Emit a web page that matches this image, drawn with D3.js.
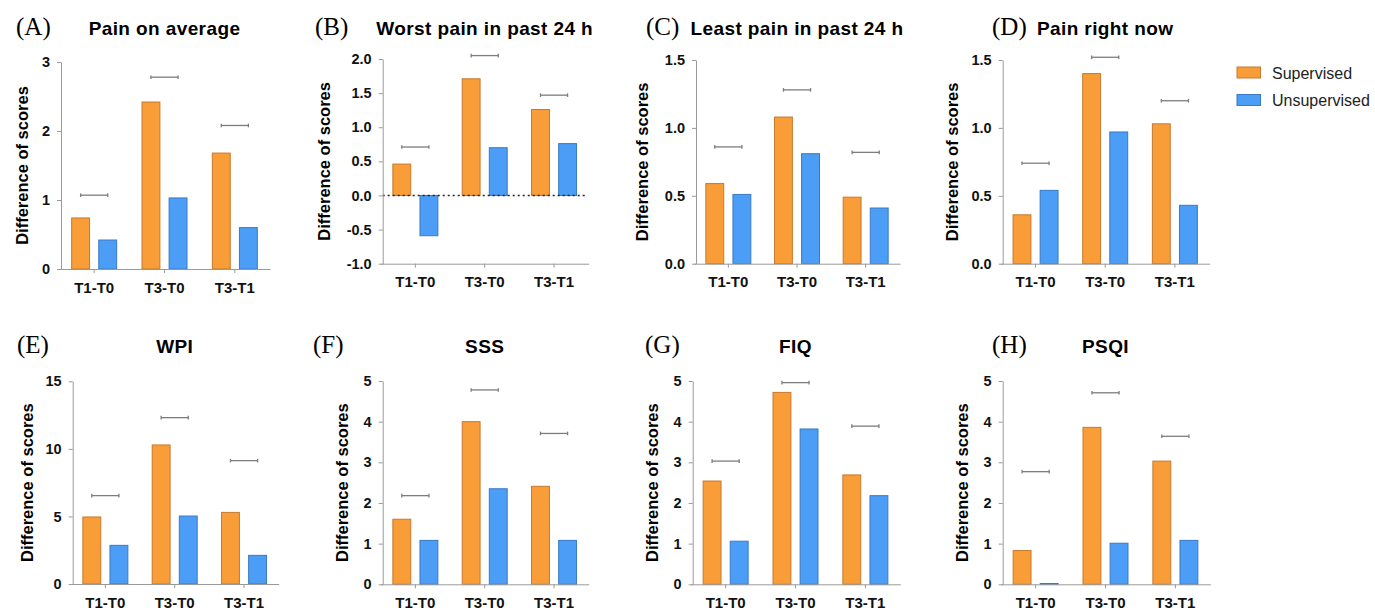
<!DOCTYPE html>
<html>
<head>
<meta charset="utf-8">
<script src="https://cdn.jsdelivr.net/npm/d3@7"></script>
<style>
  body { margin: 0; background: #fff; }
  svg { font-family: "Liberation Sans", Arial, sans-serif; }
  .axis path, .axis line { stroke: #9a9a9a; stroke-width: 1; }
  .axis text { font-size: 14.5px; font-weight: bold; fill: #111; }
  .axis--x text { font-size: 15px; }
</style>
</head>
<body>
<script>
// data
var categories = ["T1-T0", "T3-T0", "T3-T1"],
    groups = ["Supervised", "Unsupervised"],
    letters = ["(A)", "(B)", "(C)", "(D)", "(E)", "(F)", "(G)", "(H)"],
    titles = ["Pain on average", "Worst pain in past 24 h", "Least pain in past 24 h", "Pain right now",
              "WPI", "SSS", "FIQ", "PSQI"],
    supervised = [
      [0.74, 2.42, 1.68],
      [0.46, 1.71, 1.26],
      [0.59, 1.08, 0.49],
      [0.36, 1.40, 1.03],
      [4.96, 10.29, 5.30],
      [1.60, 4.00, 2.41],
      [2.54, 4.72, 2.69],
      [0.83, 3.86, 3.03]
    ],
    unsupervised = [
      [0.42, 1.03, 0.60],
      [-0.59, 0.70, 0.76],
      [0.51, 0.81, 0.41],
      [0.54, 0.97, 0.43],
      [2.86, 5.03, 2.12],
      [1.08, 2.35, 1.08],
      [1.06, 3.82, 2.18],
      [0.02, 1.01, 1.08]
    ],
    bracketLevels = [
      [1.07, 2.78, 2.08],
      [0.71, 2.05, 1.47],
      [0.86, 1.28, 0.82],
      [0.74, 1.52, 1.20],
      [6.54, 12.31, 9.13],
      [2.18, 4.78, 3.71],
      [3.03, 4.96, 3.89],
      [2.77, 4.71, 3.64]
    ],
    yDomains = [[0, 3], [-1, 2], [0, 1.5], [0, 1.5], [0, 15], [0, 5], [0, 5], [0, 5]],
    yTickSteps = [1, 0.5, 0.5, 0.5, 5, 1, 1, 1],
    yTickFormats = ["d", ".1f", ".1f", ".1f", "d", "d", "d", "d"];

// panel placement (pixels)
var layout = [
  {x: 61,    top: 62,  bottom: 269,   w: 207, lx: 16,  ty: 35,  yt: -33},
  {x: 382.7, top: 59,  bottom: 263.7, w: 204, lx: 315, ty: 35,  yt: -53},
  {x: 696,   top: 60,  bottom: 263.7, w: 202, lx: 646, ty: 35,  yt: -48},
  {x: 1002.7,top: 60,  bottom: 263.7, w: 205, lx: 992, ty: 35,  yt: -45},
  {x: 72.7,  top: 381.3,bottom: 584,  w: 204, lx: 17,  ty: 353, yt: -40},
  {x: 382.7, top: 381, bottom: 584.3, w: 204, lx: 313, ty: 353, yt: -35},
  {x: 692.7, top: 381, bottom: 584.3, w: 205.6, lx: 645, ty: 353, yt: -35},
  {x: 1002.7,top: 381, bottom: 584.3, w: 205.6, lx: 992, ty: 353, yt: -35}
];

var color = d3.scaleOrdinal().domain(groups).range(["#F99D38", "#4C9DF6"]),
    stroke = d3.scaleOrdinal().domain(groups).range(["#C7792E", "#3A79C6"]);

var svg = d3.select("body").append("svg")
    .attr("width", 1375)
    .attr("height", 610);

titles.forEach(function(title, i) {
  var L = layout[i],
      h = L.bottom - L.top,
      dom = yDomains[i],
      step = yTickSteps[i],
      fmt = d3.format(yTickFormats[i]);

  var y = d3.scaleLinear().domain(dom).range([h, 0]),
      x0 = d3.scaleBand().domain(categories).range([-2, L.w + 2]),
      x1 = d3.scaleBand().domain(groups)
        .range([x0.bandwidth() / 2 - 22.5, x0.bandwidth() / 2 + 22.5])
        .paddingInner(0.34);

  var ticks = d3.range(dom[0], dom[1] + step / 2, step);

  // letter + title
  svg.append("text")
      .attr("x", L.lx).attr("y", L.ty)
      .style("font-family", "'Liberation Serif', 'Times New Roman', serif")
      .style("font-size", "25px")
      .text(letters[i]);

  svg.append("text")
      .attr("x", L.x + L.w / 2).attr("y", L.ty)
      .attr("text-anchor", "middle")
      .style("font-size", "19px")
      .style("font-weight", "bold")
      .style("letter-spacing", "0.4px")
      .text(title);

  var g = svg.append("g")
      .attr("transform", "translate(" + L.x + "," + L.top + ")");

  var rows = categories.map(function(c, j) {
    return {cat: c, values: [
      {key: groups[0], value: supervised[i][j]},
      {key: groups[1], value: unsupervised[i][j]}
    ], bracket: bracketLevels[i][j]};
  });

  var cat = g.selectAll(".cat")
      .data(rows)
    .enter().append("g")
      .attr("class", "cat")
      .attr("transform", function(d) { return "translate(" + x0(d.cat) + ",0)"; });

  cat.selectAll("rect")
      .data(function(d) { return d.values; })
    .enter().append("rect")
      .attr("x", function(d) { return x1(d.key); })
      .attr("y", function(d) { return y(Math.max(0, d.value)); })
      .attr("width", x1.bandwidth())
      .attr("height", function(d) { return Math.abs(y(d.value) - y(0)); })
      .style("fill", function(d) { return color(d.key); })
      .style("stroke", function(d) { return stroke(d.key); })
      .style("stroke-width", 1);

  // grey brackets above each pair
  var br = cat.append("g")
      .style("stroke", "#7d7d7d")
      .style("stroke-width", 1.3);
  br.append("line")
      .attr("x1", x1(groups[0]) + x1.bandwidth() / 2)
      .attr("x2", x1(groups[1]) + x1.bandwidth() / 2)
      .attr("y1", function(d) { return y(d.bracket); })
      .attr("y2", function(d) { return y(d.bracket); });
  [groups[0], groups[1]].forEach(function(k) {
    br.append("line")
        .attr("x1", x1(k) + x1.bandwidth() / 2)
        .attr("x2", x1(k) + x1.bandwidth() / 2)
        .attr("y1", function(d) { return y(d.bracket) - 1.8; })
        .attr("y2", function(d) { return y(d.bracket) + 1.8; });
  });

  // zero line when the axis goes below zero
  if (dom[0] < 0) {
    g.append("line")
        .attr("x1", 0).attr("x2", L.w)
        .attr("y1", y(0)).attr("y2", y(0))
        .style("stroke", "#222")
        .style("stroke-width", 1.6)
        .style("stroke-dasharray", "2,3");
  }

  g.append("g")
      .attr("class", "axis axis--y")
      .call(d3.axisLeft(y).tickValues(ticks)
        .tickFormat(function(d) { return fmt(d).replace("\u2212", "-"); })
        .tickSize(4).tickPadding(7).tickSizeOuter(0));

  g.append("g")
      .attr("class", "axis axis--x")
      .attr("transform", "translate(0," + h + ")")
      .call(d3.axisBottom(x0).tickSize(4).tickPadding(9).tickSizeOuter(0));

  g.append("text")
      .attr("transform", "translate(" + L.yt + "," + (h / 2) + ") rotate(-90)")
      .attr("text-anchor", "middle")
      .style("font-size", "16.5px")
      .style("font-weight", "bold")
      .text("Difference of scores");
});

// legend
var legend = svg.append("g")
    .attr("transform", "translate(1237,67)");

var item = legend.selectAll(".item")
    .data(groups)
  .enter().append("g")
    .attr("class", "item")
    .attr("transform", function(d, i) { return "translate(0," + (i * 27.5) + ")"; });

item.append("rect")
    .attr("width", 23.5)
    .attr("height", 11)
    .style("fill", function(d) { return color(d); })
    .style("stroke", function(d) { return stroke(d); });

item.append("text")
    .attr("x", 35)
    .attr("y", 11.5)
    .style("font-size", "16px")
    .style("fill", "#222")
    .text(function(d) { return d; });
</script>
</body>
</html>
